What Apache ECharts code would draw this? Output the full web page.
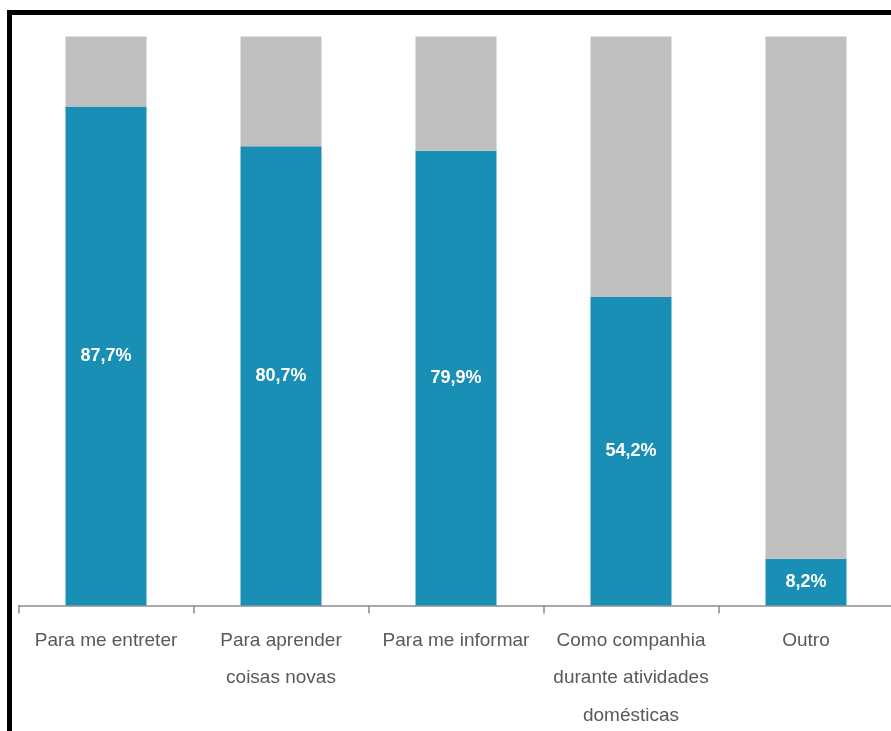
<!DOCTYPE html>
<html>
<head>
<meta charset="utf-8">
<script src="https://cdn.jsdelivr.net/npm/echarts@6/dist/echarts.min.js"></script>
<style>
html,body{margin:0;padding:0;background:#fff;}
#chart{width:891px;height:731px;}
</style>
</head>
<body>
<div id="chart"></div>
<script>
var categories = ['Para me entreter', 'Para aprender\ncoisas novas', 'Para me informar', 'Como companhia\ndurante atividades\ndomésticas', 'Outro'];
var yesValues = [87.7, 80.7, 79.9, 54.2, 8.2];
var restValues = yesValues.map(function (v) { return +(100 - v).toFixed(1); });

var chart = echarts.init(document.getElementById('chart'));
chart.setOption({
  animation: false,
  backgroundColor: '#fff',
  graphic: [
    { type: 'rect', shape: { x: 7, y: 10, width: 884, height: 5 }, style: { fill: '#000' } },
    { type: 'rect', shape: { x: 7, y: 10, width: 5, height: 721 }, style: { fill: '#000' } }
  ],
  grid: { left: 18.5, width: 875, top: 36.5, height: 569, containLabel: false, outerBoundsMode: 'none' },
  xAxis: {
    type: 'category',
    data: categories,
    axisLine: { lineStyle: { color: '#8c8c8c', width: 1.5 } },
    axisTick: { show: true, length: 8, lineStyle: { color: '#8c8c8c', width: 1.5 } },
    axisLabel: {
      color: '#595959', fontSize: 19, fontFamily: 'Liberation Sans, Arial, sans-serif',
      lineHeight: 37.5, margin: 16.5, interval: 0
    }
  },
  yAxis: { type: 'value', min: 0, max: 100, show: false },
  series: [
    {
      type: 'bar', stack: 'a', data: yesValues, barWidth: 81,
      itemStyle: { color: '#1a8fb5' },
      label: {
        show: true, position: 'inside', color: '#fff', fontWeight: 'bold', fontSize: 18,
        fontFamily: 'Liberation Sans, Arial, sans-serif',
        formatter: function (p) { return p.value.toFixed(1).replace('.', ',') + '%'; }
      }
    },
    {
      type: 'bar', stack: 'a', data: restValues, barWidth: 81,
      itemStyle: { color: '#bfbfbf' }
    }
  ]
});
</script>
</body>
</html>
